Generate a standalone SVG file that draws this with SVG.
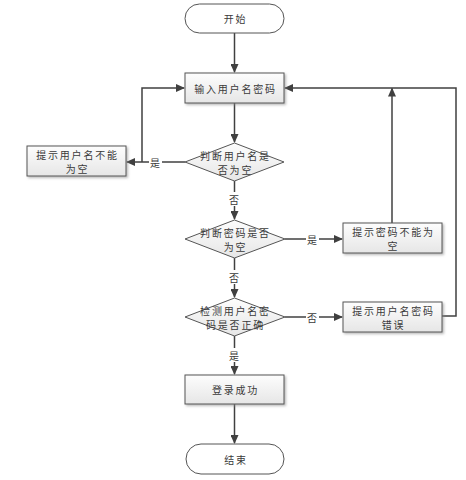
<svg xmlns="http://www.w3.org/2000/svg" width="466" height="480" viewBox="0 0 466 480">
<style>
.t{font-family:"Noto Sans CJK SC","DejaVu Sans",sans-serif;font-size:10px;fill:#3a3a3a;text-anchor:middle;dominant-baseline:central;letter-spacing:1.8px}
.box{fill:url(#g);stroke:#555;stroke-width:1;filter:url(#sh)}
.term{fill:#fff;stroke:#555;stroke-width:1}
.dia{fill:url(#g);stroke:#555;stroke-width:1}
.c{fill:none;stroke:#404040;stroke-width:1.5}
.lb{fill:#fff}
</style>
<defs>
<linearGradient id="g" x1="0" y1="0" x2="0" y2="1"><stop offset="0" stop-color="#fdfdfd"/><stop offset="1" stop-color="#e6e6e6"/></linearGradient>
<filter id="sh" x="-10%" y="-10%" width="130%" height="140%"><feDropShadow dx="1.5" dy="1.5" stdDeviation="0.8" flood-color="#888" flood-opacity="0.6"/></filter>
<marker id="a" markerWidth="9" markerHeight="8" refX="8" refY="4" orient="auto" markerUnits="userSpaceOnUse"><path d="M0,0 L9,4 L0,8 Z" fill="#404040"/></marker>
</defs>
<g id="connectors">
<path class="c" d="M234.5 33 V72" marker-end="url(#a)"/>
<path class="c" d="M234.5 103 V142" marker-end="url(#a)"/>
<path class="c" d="M185 162 H127" marker-end="url(#a)"/>
<path class="c" d="M142 162 V88 H184" marker-end="url(#a)"/>
<path class="c" d="M234.5 181 V219" marker-end="url(#a)"/>
<path class="c" d="M285 239 H342" marker-end="url(#a)"/>
<path class="c" d="M392 223 V88.5" marker-end="url(#a)"/>
<path class="c" d="M234.5 258 V297" marker-end="url(#a)"/>
<path class="c" d="M285 317 H342" marker-end="url(#a)"/>
<path class="c" d="M442 316 H456 V88 H285" marker-end="url(#a)"/>
<path class="c" d="M234.5 336 V374" marker-end="url(#a)"/>
<path class="c" d="M234.5 404 V443" marker-end="url(#a)"/>
<rect class="lb" x="149" y="155" width="13" height="14"/>
<text class="t" x="156" y="162">是</text>
<rect class="lb" x="228" y="192" width="13" height="14"/>
<text class="t" x="235" y="199">否</text>
<rect class="lb" x="306" y="232" width="13" height="14"/>
<text class="t" x="313" y="239">是</text>
<rect class="lb" x="228" y="270" width="13" height="14"/>
<text class="t" x="235" y="277">否</text>
<rect class="lb" x="306" y="310" width="13" height="14"/>
<text class="t" x="313" y="317">否</text>
<rect class="lb" x="228" y="348" width="13" height="14"/>
<text class="t" x="235" y="355">是</text>
</g>
<g id="start"><rect class="term" x="185" y="4" width="99" height="29" rx="14.5"/><text class="t" x="235.5" y="18.5">开始</text></g>
<g id="input"><rect class="box" x="185" y="73" width="99" height="30"/><text class="t" x="235.5" y="88">输入用户名密码</text></g>
<g id="d1"><polygon class="dia" points="234.5,143 284,162 234.5,181 185,162"/><text class="t"><tspan x="235.5" y="154.75">判断用户名是</tspan><tspan x="235.5" y="169.25">否为空</tspan></text></g>
<g id="box1"><rect class="box" x="27" y="146" width="99" height="30"/><text class="t"><tspan x="77.5" y="153.75">提示用户名不能</tspan><tspan x="77.5" y="168.25">为空</tspan></text></g>
<g id="d2"><polygon class="dia" points="234.5,220 285,239 234.5,258 185,239"/><text class="t"><tspan x="235.5" y="231.75">判断密码是否</tspan><tspan x="235.5" y="246.25">为空</tspan></text></g>
<g id="box2"><rect class="box" x="343" y="223" width="99" height="30"/><text class="t"><tspan x="393.5" y="230.75">提示密码不能为</tspan><tspan x="393.5" y="245.25">空</tspan></text></g>
<g id="d3"><polygon class="dia" points="234.5,298 285,317 234.5,336 185,317"/><text class="t"><tspan x="235.5" y="309.75">检测用户名密</tspan><tspan x="235.5" y="324.25">码是否正确</tspan></text></g>
<g id="box3"><rect class="box" x="343" y="302" width="99" height="30"/><text class="t"><tspan x="393.5" y="309.75">提示用户名密码</tspan><tspan x="393.5" y="324.25">错误</tspan></text></g>
<g id="success"><rect class="box" x="185" y="375" width="99" height="29"/><text class="t" x="235.5" y="389.5">登录成功</text></g>
<g id="end"><rect class="term" x="186" y="444" width="98" height="30" rx="15"/><text class="t" x="236" y="459">结束</text></g>
</svg>
